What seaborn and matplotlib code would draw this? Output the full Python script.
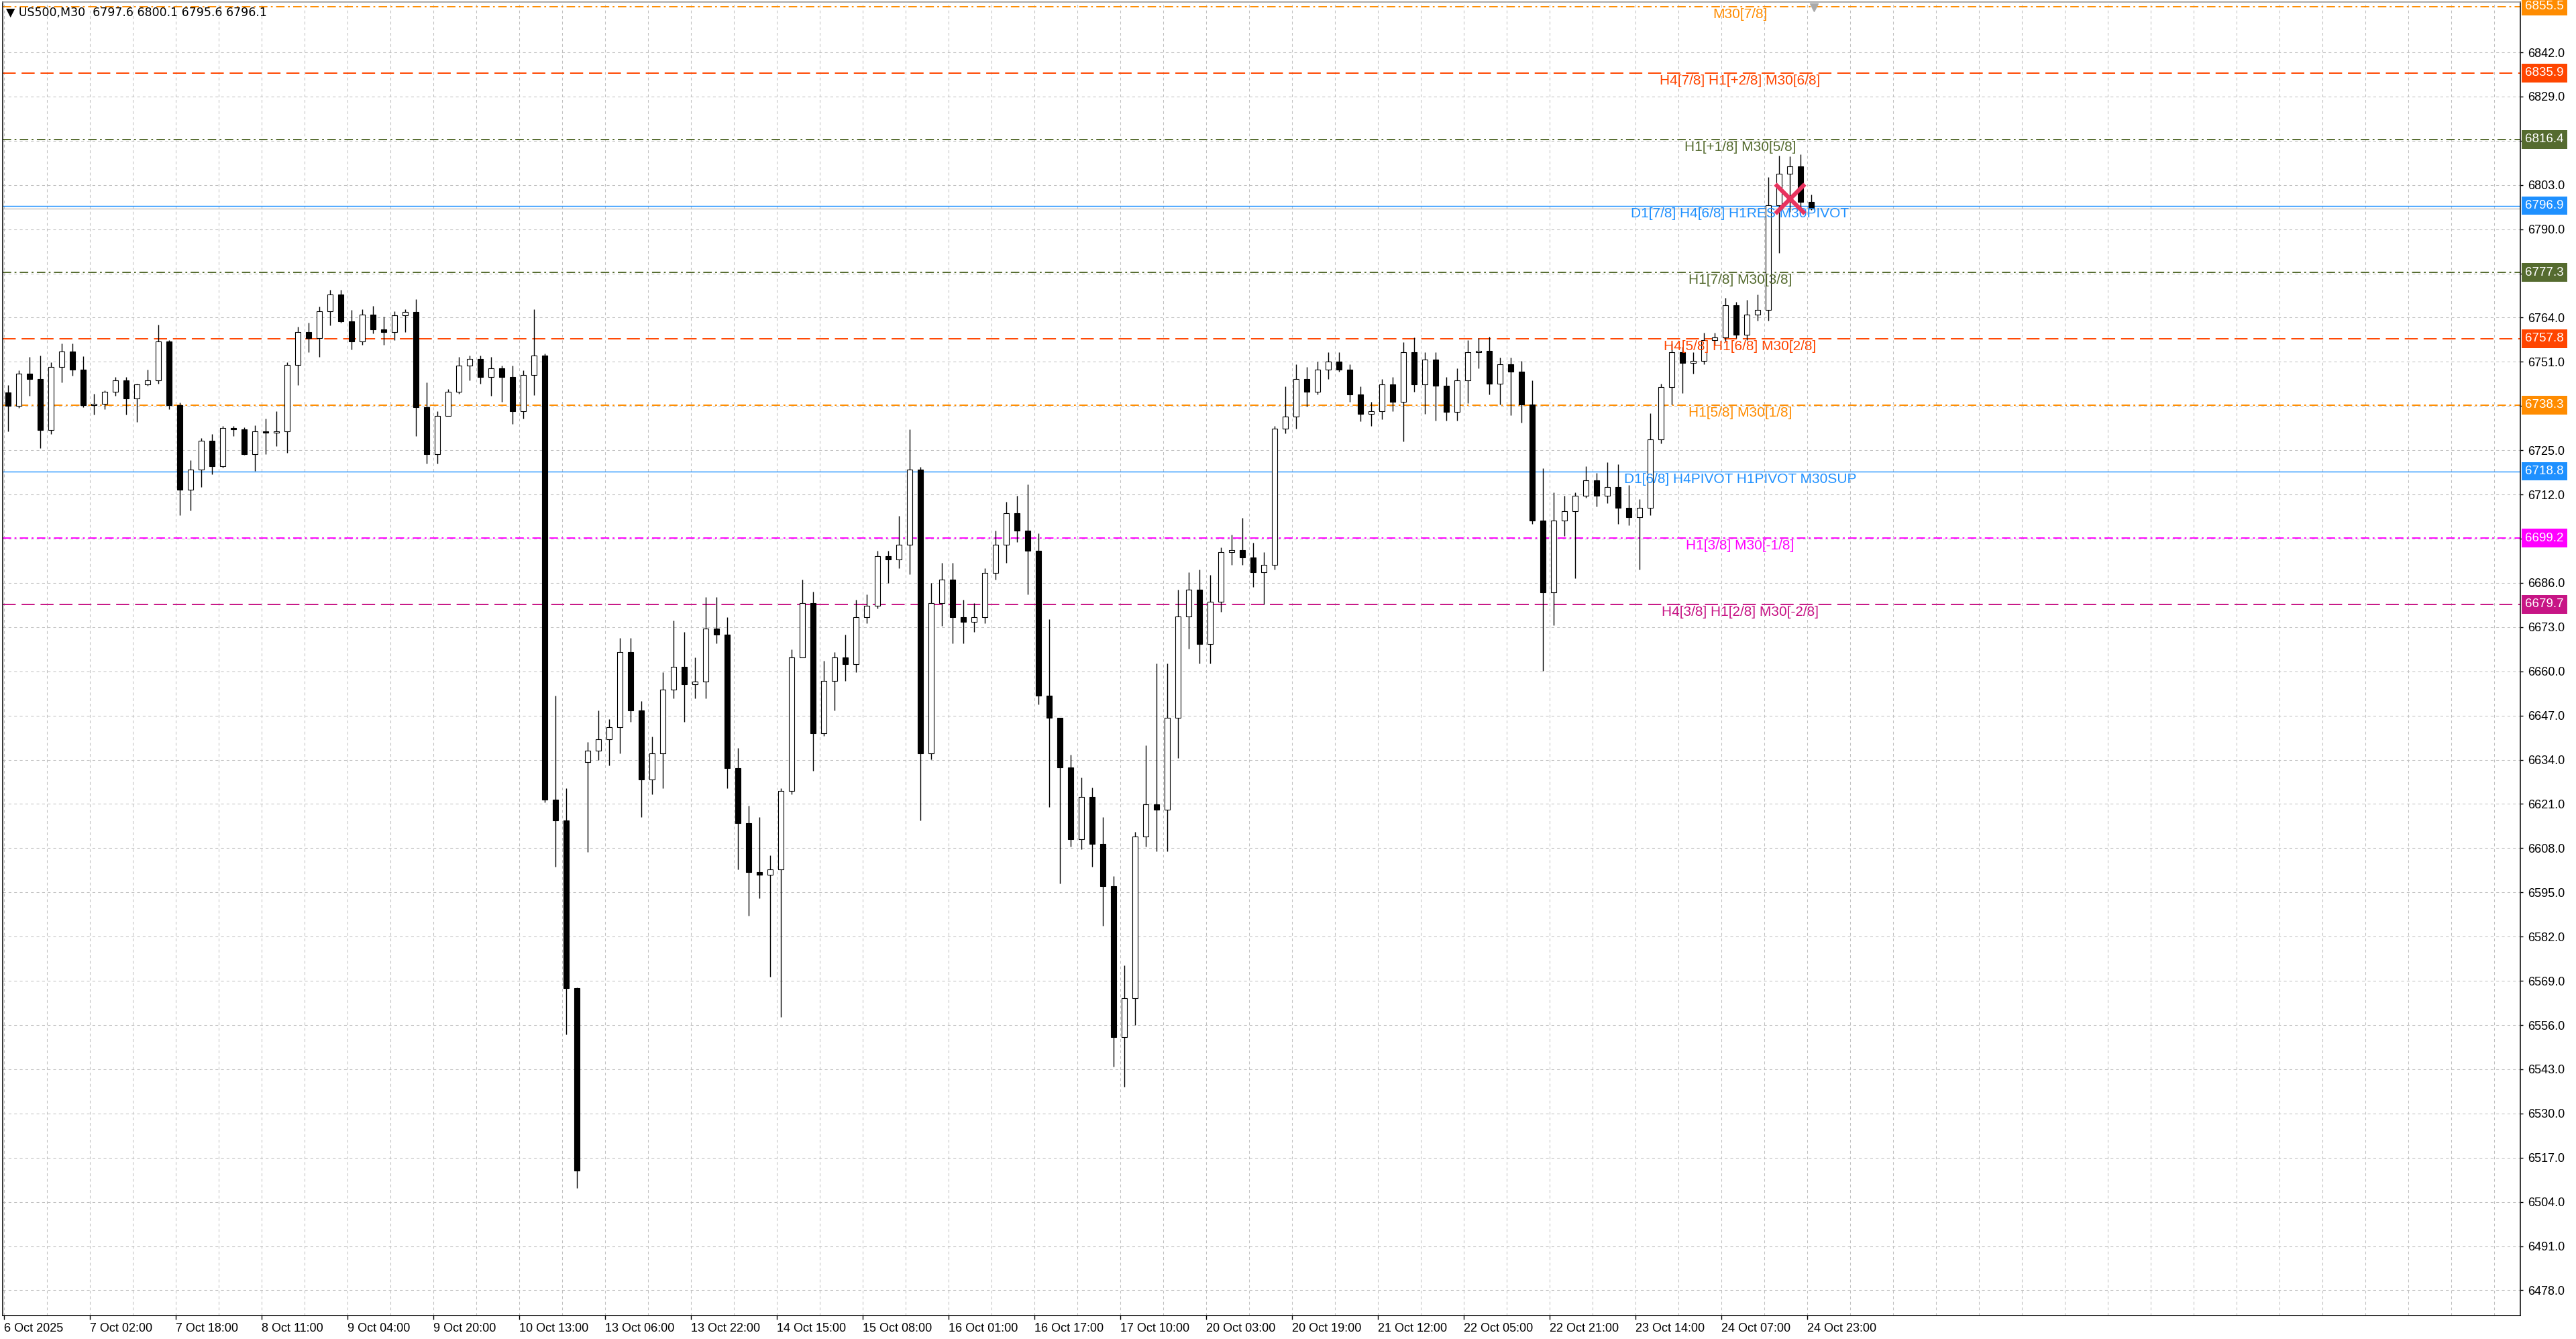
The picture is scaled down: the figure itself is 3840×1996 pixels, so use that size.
import numpy as np
import matplotlib
matplotlib.use("Agg")
import matplotlib.pyplot as plt
import matplotlib.transforms as mtransforms
from matplotlib.ticker import MultipleLocator
import pandas as pd
import seaborn as sns

opens = [6742, 6738, 6747.5, 6746, 6731, 6749.5, 6754.1, 6748.8, 6738.3, 6738.7,
         6742.3, 6745.6, 6740.3, 6744.3, 6745.6, 6757, 6738.3, 6713.4, 6719.3, 6727.8,
         6720.3, 6731.5, 6731.1, 6723.9, 6730.5, 6730.2, 6730.5, 6750.1, 6759.7, 6758,
         6765.9, 6770.8, 6762.9, 6757, 6764.9, 6760.6, 6759.7, 6764.6, 6765.6, 6737.7,
         6723.9, 6735.1, 6742.3, 6749.8, 6751.8, 6746.5, 6749.2, 6746.5, 6736.4, 6747.2,
         6752.8, 6622.2, 6616.2, 6566.8, 6633.3, 6636.7, 6640.1, 6643.5, 6665.6, 6648.6,
         6628.2, 6635.8, 6654.6, 6661.4, 6656.3, 6657, 6672.5, 6670.8, 6631.6, 6615.4,
         6600.9, 6600.1, 6601.8, 6624.8, 6664, 6680.1, 6641.8, 6657.1, 6664, 6662.2,
         6675.9, 6679.3, 6693.8, 6692.9, 6697.2, 6719.3, 6635.8, 6680, 6686.9, 6675.9,
         6674.5, 6675.9, 6689, 6697.2, 6706.5, 6701.4, 6695.5, 6652.9, 6646.3, 6631.7,
         6610.6, 6623, 6609.2, 6596.8, 6552.5, 6563.9, 6611.4, 6620.8, 6619.4, 6646.3,
         6676.1, 6684.1, 6668.1, 6680.4, 6695, 6695.7, 6693.5, 6689.2, 6691.3, 6731.3,
         6735, 6745.9, 6742.2, 6748.8, 6751, 6748.8, 6741.5, 6735.7, 6736.5, 6744.4,
         6739.3, 6753.9, 6744.4, 6751.7, 6744, 6736.3, 6745.6, 6753.8, 6754.3, 6744.5,
         6750.2, 6748.1, 6738.4, 6704.4, 6683.3, 6704.4, 6707, 6711.6, 6716.2, 6711.6,
         6714.2, 6708, 6705.4, 6708, 6728.1, 6743.5, 6753.8, 6750.7, 6751.2, 6757.4,
         6758.2, 6767.7, 6759, 6764.9, 6766.2, 6797, 6806.3, 6808.4, 6798.1]
highs = [6744.2, 6748.5, 6752.5, 6752.8, 6750.9, 6756.4, 6756.5, 6752.6, 6741.6, 6742.6,
         6746.5, 6746.5, 6744.6, 6748.8, 6762, 6757.4, 6739, 6722, 6728.5, 6729.8,
         6732.1, 6732.1, 6731.8, 6732.4, 6734.4, 6736.4, 6750.8, 6761.3, 6762.6, 6767.2,
         6772.1, 6772.1, 6766.2, 6766.5, 6767.5, 6764.2, 6765.9, 6766.5, 6769.5, 6744.9,
         6736.4, 6742.9, 6752.4, 6752.9, 6752.8, 6752.4, 6749.8, 6749.8, 6748.5, 6766.5,
         6753.4, 6652.9, 6625.6, 6567, 6639.2, 6648.6, 6646, 6669.9, 6669.9, 6651.2,
         6640.9, 6659.7, 6675, 6671.6, 6664, 6681.8, 6681.8, 6675.9, 6637.5, 6620.5,
         6617.1, 6606, 6625.6, 6666.5, 6686.9, 6683.5, 6663.1, 6665.6, 6670.8, 6681,
         6682.7, 6695.5, 6695.5, 6705.7, 6731.2, 6720.2, 6686, 6692, 6692, 6681,
         6680.1, 6690.3, 6701.4, 6709.9, 6711.6, 6715, 6700.6, 6675.4, 6646.3, 6635.4,
         6628.8, 6625.9, 6617.2, 6599.7, 6573.5, 6612.8, 6638.3, 6662.3, 6662.3, 6684.1,
         6689.2, 6689.9, 6688.4, 6696.4, 6700.1, 6705.2, 6697.9, 6695, 6732.1, 6743.7,
         6750.2, 6749.5, 6751, 6753.9, 6753.9, 6750.2, 6743.7, 6739.3, 6745.9, 6746.6,
         6756.8, 6758.2, 6753.9, 6753.8, 6746.6, 6749.2, 6757.4, 6757.9, 6758.4, 6752.3,
         6752.3, 6751.2, 6745.6, 6719.8, 6712.6, 6711.6, 6712.6, 6720.4, 6718.3, 6721.4,
         6720.9, 6714.7, 6710.6, 6735.8, 6744.5, 6756.4, 6755.4, 6753.8, 6759.5, 6759.5,
         6769.8, 6768.7, 6769.3, 6770.8, 6805.3, 6811.7, 6811.5, 6812, 6800.1]
lows = [6730.5, 6737.5, 6741, 6725.6, 6729.8, 6744.9, 6746.9, 6737.7, 6735.4, 6737,
        6741, 6735.4, 6733.4, 6743.9, 6744.6, 6737, 6705.9, 6707.2, 6714.1, 6718,
        6720, 6729.2, 6723.6, 6719, 6723.9, 6726.2, 6724.3, 6744.2, 6753.8, 6752.4,
        6761.8, 6762.6, 6754.7, 6756, 6759.3, 6756, 6757.4, 6759.7, 6729.2, 6721,
        6721, 6735.1, 6741.6, 6745.6, 6744.6, 6741, 6739.3, 6732.8, 6734.4, 6741.3,
        6621.4, 6602.6, 6553.2, 6508.1, 6606.9, 6634, 6632.4, 6635.8, 6645.2, 6617.1,
        6623.9, 6625.6, 6652, 6645.2, 6652, 6652, 6668.2, 6625.6, 6601.8, 6588.1,
        6593.2, 6570.2, 6558.3, 6623.9, 6664, 6630.7, 6641, 6648.6, 6657.1, 6659.7,
        6674.2, 6678.4, 6686, 6690.3, 6688.6, 6616.2, 6634.1, 6673.3, 6668.2, 6668.2,
        6671.6, 6674.2, 6686.9, 6692, 6698, 6682.7, 6650.3, 6620.1, 6597.6, 6608.5,
        6607.7, 6602.6, 6585.2, 6543.8, 6537.9, 6556.1, 6608.5, 6607, 6607, 6634.6,
        6666.6, 6662.3, 6662.3, 6677.5, 6691.4, 6691.4, 6684.8, 6679.7, 6689.9, 6729.9,
        6731.3, 6737.9, 6741.5, 6745.9, 6748.1, 6739.3, 6733.5, 6732.1, 6734.2, 6736.4,
        6727.7, 6742.2, 6735.7, 6733.7, 6733.7, 6733.7, 6738.9, 6749.2, 6741.5, 6738.4,
        6735.3, 6733.2, 6703.4, 6660.1, 6673.5, 6699.8, 6687.4, 6711, 6708.5, 6709.5,
        6703.4, 6702.9, 6690, 6706, 6727.1, 6738.4, 6741.9, 6747.6, 6750.2, 6755.9,
        6756.9, 6757.9, 6757.4, 6763.1, 6763.1, 6783.1, 6795, 6796, 6795.6]
closes = [6738, 6747.5, 6746, 6731, 6749.5, 6754.1, 6748.8, 6738.3, 6738.7, 6742.3,
          6745.6, 6740.3, 6744.3, 6745.6, 6757, 6738.3, 6713.4, 6719.3, 6727.8, 6720.3,
          6731.5, 6731.1, 6723.9, 6730.5, 6730.2, 6730.5, 6750.1, 6759.7, 6758, 6765.9,
          6770.8, 6762.9, 6757, 6764.9, 6760.6, 6759.7, 6764.6, 6765.6, 6737.7, 6723.9,
          6735.1, 6742.3, 6749.8, 6751.8, 6746.5, 6749.2, 6746.5, 6736.4, 6747.2, 6752.8,
          6622.2, 6616.2, 6566.8, 6513.2, 6636.7, 6640.1, 6643.5, 6665.6, 6648.6, 6628.2,
          6635.8, 6654.6, 6661.4, 6656.3, 6657, 6672.5, 6670.8, 6631.6, 6615.4, 6600.9,
          6600.1, 6601.8, 6624.8, 6664, 6680.1, 6641.8, 6657.1, 6664, 6662.2, 6675.9,
          6679.3, 6693.8, 6692.9, 6697.2, 6719.3, 6635.8, 6680, 6686.9, 6675.9, 6674.5,
          6675.9, 6689, 6697.2, 6706.5, 6701.4, 6695.5, 6652.9, 6646.3, 6631.7, 6610.6,
          6623, 6609.2, 6596.8, 6552.5, 6563.9, 6611.4, 6620.8, 6619.4, 6646.3, 6676.1,
          6684.1, 6668.1, 6680.4, 6695, 6695.7, 6693.5, 6689.2, 6691.3, 6731.3, 6735,
          6745.9, 6742.2, 6748.8, 6751, 6748.8, 6741.5, 6735.7, 6736.5, 6744.4, 6739.3,
          6753.9, 6744.4, 6751.7, 6744, 6736.3, 6745.6, 6753.8, 6754.3, 6744.5, 6750.2,
          6748.1, 6738.4, 6704.4, 6683.3, 6704.4, 6707, 6711.6, 6716.2, 6711.6, 6714.2,
          6708, 6705.4, 6708, 6728.1, 6743.5, 6753.8, 6750.7, 6751.2, 6757.4, 6758.2,
          6767.7, 6759, 6764.9, 6766.2, 6797, 6806.3, 6808.4, 6798.1, 6796.1]

bars_per_candle = 4

x_labels = ["6 Oct 2025", "7 Oct 02:00", "7 Oct 18:00", "8 Oct 11:00", "9 Oct 04:00",
            "9 Oct 20:00", "10 Oct 13:00", "13 Oct 06:00", "13 Oct 22:00", "14 Oct 15:00",
            "15 Oct 08:00", "16 Oct 01:00", "16 Oct 17:00", "17 Oct 10:00", "20 Oct 03:00",
            "20 Oct 19:00", "21 Oct 12:00", "22 Oct 05:00", "22 Oct 21:00", "23 Oct 14:00",
            "24 Oct 07:00", "24 Oct 23:00"]
x_label_step = 32

y_tick_first = 6478
y_tick_last = 6842
y_tick_step = 13

# Murrey math levels drawn by the indicator
levels = [6855.5, 6835.9, 6816.4, 6796.9, 6777.3, 6757.8, 6738.3, 6718.8, 6699.2, 6679.7]
level_names = ["M30[7/8]", "H4[7/8] H1[+2/8] M30[6/8]", "H1[+1/8] M30[5/8]",
               "D1[7/8] H4[6/8] H1RES M30PIVOT", "H1[7/8] M30[3/8]",
               "H4[5/8] H1[6/8] M30[2/8]", "H1[5/8] M30[1/8]",
               "D1[6/8] H4PIVOT H1PIVOT M30SUP", "H1[3/8] M30[-1/8]",
               "H4[3/8] H1[2/8] M30[-2/8]"]
level_colors = ["#FF8C00", "#FF4500", "#556B2F", "#1E90FF", "#556B2F",
                "#FF4500", "#FF8C00", "#1E90FF", "#FF00FF", "#C71585"]
level_kinds = ["dashdot", "dash", "dashdot", "solid", "dashdot",
               "dash", "dashdot", "solid", "dashdot", "dash"]
label_bar = 647

bid_price = 6796.1
symbol = "US500,M30"
header_ohlc = [6797.6, 6800.1, 6795.6, 6796.1]
signal_bar = 665.5
signal_price = 6799.0
shift_bar = 674.5

line_styles = {"dashdot": (0, (6.5, 2.6, 1.4, 2.6)),
               "dash": (0, (10, 4.5)),
               "solid": "-"}
line_widths = {"dashdot": 1.4, "dash": 1.4, "solid": 1.0}

sns.set_theme(style="white", rc={"axes.edgecolor": "black"})
plt.rcParams["font.family"] = ["Liberation Sans", "DejaVu Sans"]

fig = plt.figure(figsize=(38.4, 19.96), dpi=100)
ax = fig.add_axes([4 / 3840, 1 - 1961 / 1996, 3753 / 3840, 1958 / 1996])
ax.set_facecolor("white")

df = pd.DataFrame({"open": opens, "high": highs, "low": lows, "close": closes})
df["x"] = df.index * bars_per_candle + (bars_per_candle - 1) / 2
up = df["close"] >= df["open"]
body_low = df[["open", "close"]].min(axis=1)
body_h = (df["close"] - df["open"]).abs().clip(lower=0.4)

# grid
ax.set_xlim(-0.5, 937.75)
ax.set_ylim(6470.6, 6856.8)
ax.xaxis.set_major_locator(MultipleLocator(x_label_step))
ax.xaxis.set_minor_locator(MultipleLocator(x_label_step / 2))
ax.set_yticks(np.arange(y_tick_first, y_tick_last + 1, y_tick_step))
ax.grid(True, which="both", axis="x", color="#C0C0C0", linestyle=(0, (4, 4)), linewidth=0.75)
ax.grid(True, which="major", axis="y", color="#C0C0C0", linestyle=(0, (4, 4)), linewidth=0.75)
ax.set_axisbelow(True)

# level lines
for lv, col, kind in zip(levels, level_colors, level_kinds):
    ax.axhline(lv, color=col, linestyle=line_styles[kind], linewidth=line_widths[kind], zorder=2)
ax.axhline(bid_price, color="#C0C0C0", linewidth=1.0, zorder=2)

# candles
ax.vlines(df["x"], df["low"], df["high"], color="black", linewidth=1.0, zorder=3)
ax.bar(df["x"], body_h, bottom=body_low, width=2.0,
       color=np.where(up, "white", "black"), edgecolor="black", linewidth=0.8, zorder=4)

# level labels on the chart
for lv, col, name in zip(levels, level_colors, level_names):
    ax.annotate(name, xy=(label_bar, lv), xytext=(0, -1.5), textcoords="offset points",
                ha="center", va="top", color=col, fontsize=15, zorder=6)

# signal cross
sns.scatterplot(x=[signal_bar], y=[signal_price], marker="x", s=1000, color="#E8335F",
                linewidth=4.5, ax=ax, zorder=8, legend=False)

# chart shift marker
top_trans = mtransforms.blended_transform_factory(ax.transData, ax.transAxes)
ax.plot([shift_bar], [0.996], marker="v", markersize=9, color="#A9A9A9",
        transform=top_trans, clip_on=False, zorder=9)

# axes styling
for side in ["left", "bottom", "right"]:
    ax.spines[side].set_color("black")
    ax.spines[side].set_linewidth(1.1)
ax.spines["top"].set_color("#909090")
ax.spines["top"].set_linewidth(1.1)

ax.yaxis.tick_right()
ax.yaxis.set_major_formatter(plt.FormatStrFormatter("%.1f"))
ax.tick_params(axis="y", which="major", right=True, left=False, labelright=True,
               labelleft=False, length=3, width=1, pad=5, labelsize=13, colors="black")
ax.set_xticks(np.arange(len(x_labels)) * x_label_step)
ax.set_xticklabels(x_labels, ha="left")
ax.tick_params(axis="x", which="major", bottom=True, length=4, width=1, pad=4,
               labelsize=13, colors="black")
ax.tick_params(axis="x", which="minor", length=0)
ax.set_xlabel("")
ax.set_ylabel("")

# price boxes on the right scale
box_trans = mtransforms.blended_transform_factory(ax.transAxes, ax.transData)
for lv, col in zip(levels, level_colors):
    ax.annotate(f"{lv:.1f}", xy=(1, lv), xycoords=box_trans, xytext=(5, 0),
                textcoords="offset points", ha="left", va="center", color="white",
                fontsize=13.5, annotation_clip=False, zorder=10,
                bbox=dict(boxstyle="square,pad=0.28", fc=col, ec="none"))

# header
head = "\u25bc " + symbol + "  " + " ".join(f"{v:.1f}" for v in header_ohlc)
fig.text(9 / 3840, 1 - 19 / 1996, head, ha="left", va="center", fontsize=12.5,
         color="black", family=["DejaVu Sans", "Liberation Sans"])

fig.savefig("out.png", dpi=100, facecolor="white")
